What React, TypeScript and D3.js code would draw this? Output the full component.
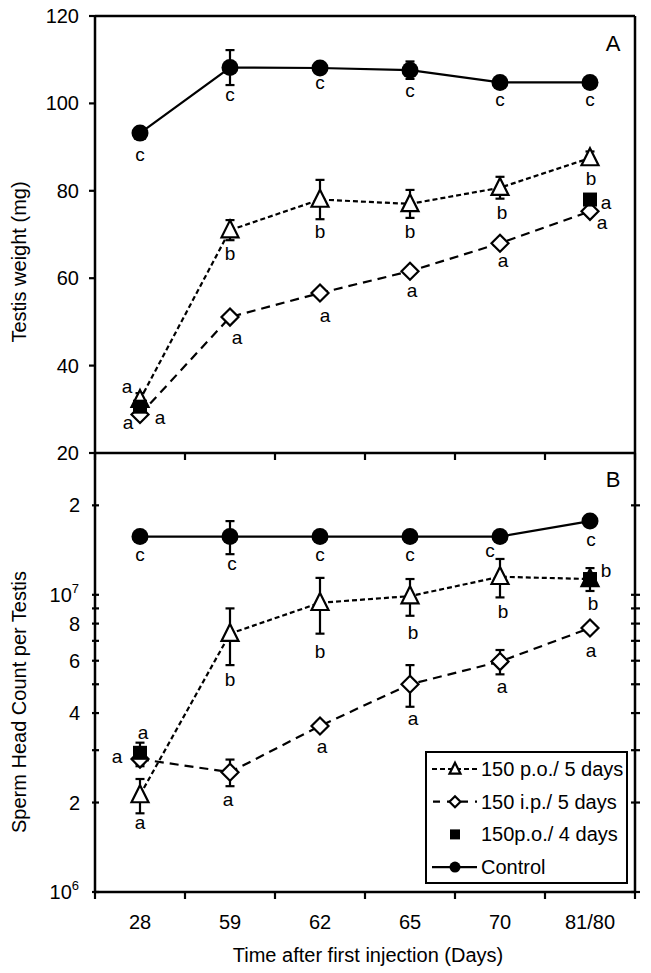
import React from "react";
import * as d3 from "d3";

const categories = ["28", "59", "62", "65", "70", "81/80"];

// Panel A: testis weight (mg)
const weightTicks = [20, 40, 60, 80, 100, 120];
const weightControl = [93.2, 108.2, 108.1, 107.6, 104.8, 104.8];
const weightControlErr = [1.2, 4.0, 1.0, 2.0, 0.8, 0.8];
const weightPo5 = [32.2, 71.0, 78.0, 77.0, 80.7, 87.5];
const weightPo5Err = [1.5, 2.3, 4.5, 3.2, 2.5, 1.5];
const weightIp5 = [28.8, 51.1, 56.6, 61.6, 68.0, 75.3];
const weightIp5Err = [0.8, 0.8, 0.8, 0.8, 0.8, 0.8];
const weightPo4 = [30.6, null, null, null, null, 78.0];
const weightPo4Err = [1.0, null, null, null, null, 1.0];

// Panel B: sperm head count per testis
const countControl = [1.57e7, 1.57e7, 1.57e7, 1.57e7, 1.57e7, 1.77e7];
const countControlErr = [0.05e7, 0.2e7, 0.03e7, 0.03e7, 0.03e7, 0.05e7];
const countPo5 = [2.12e6, 7.4e6, 9.4e6, 9.9e6, 1.15e7, 1.13e7];
const countPo5Err = [0.28e6, 1.6e6, 2.0e6, 1.4e6, 1.7e6, 0.5e6];
const countIp5 = [2.8e6, 2.53e6, 3.62e6, 5.0e6, 5.96e6, 7.73e6];
const countIp5Err = [0.15e6, 0.26e6, 0.1e6, 0.8e6, 0.56e6, 0.1e6];
const countPo4 = [2.94e6, null, null, null, null, 1.13e7];
const countPo4Err = [0.24e6, null, null, null, null, 1.0e6];

// significance letters
const weightControlLetters = ["c", "c", "c", "c", "c", "c"];
const weightPo5Letters = ["a", "b", "b", "b", "b", "b"];
const weightIp5Letters = ["a", "a", "a", "a", "a", "a"];
const weightPo4Letters = ["a", null, null, null, null, "a"];
const countControlLetters = ["c", "c", "c", "c", "c", "c"];
const countPo5Letters = ["a", "b", "b", "b", "b", "b"];
const countIp5Letters = ["a", "a", "a", "a", "a", "a"];
const countPo4Letters = ["a", null, null, null, null, "b"];

const countMajorTicks = [1e6, 1e7];
const countMinorTicks = [2e6, 3e6, 4e6, 5e6, 6e6, 7e6, 8e6, 9e6, 2e7];
const countLabeled = [
  { v: 2e6, t: "2" },
  { v: 4e6, t: "4" },
  { v: 6e6, t: "6" },
  { v: 8e6, t: "8" },
  { v: 2e7, t: "2" },
];

const legendLabels = ["150 p.o./ 5 days", "150 i.p./ 5 days", "150p.o./ 4 days", "Control"];

// label offsets (layout)
const offWCtrl = [[0, 21], [0, 27], [0, 14], [0, 20], [0, 17], [0, 17]];
const offWPo5 = [[-13, -13], [0, 23], [0, 32], [0, 28], [2, 25], [1, 20]];
const offWIp5 = [[-12, 8], [7, 20], [5, 22], [2, 19], [3, 17], [12, 11]];
const offWPo4 = [[20, 11], null, null, null, null, [16, 3]];
const offCCtrl = [[0, 18], [2, 27], [0, 18], [0, 18], [-10, 14], [1, 18]];
const offCPo5 = [[0, 27], [0, 46], [0, 49], [3, 36], [3, 35], [16, -9]];
const offCIp5 = [[3, -27], [-2, 27], [2, 21], [3, 34], [2, 25], [1, 22]];
const offCPo4 = [[-23, 4], null, null, null, null, [3, 24]];

const FONT = "'Liberation Sans', Arial, sans-serif";

const L = 95, R = 635, T = 16, MID = 453, B = 892;

const x = d3.scalePoint<string>().domain(categories).range([L, R]).padding(0.5);
const yW = d3.scaleLinear().domain([20, 120]).range([MID, T]);
const yC = d3.scaleLog().domain([1e6, 3e7]).range([B, MID]);

function tri(cx: number, cy: number, s = 8.5) {
  return `M${cx},${cy - s * 1.15}L${cx + s},${cy + s * 0.85}L${cx - s},${cy + s * 0.85}Z`;
}
function dia(cx: number, cy: number, s = 8.5) {
  return `M${cx},${cy - s}L${cx + s},${cy}L${cx},${cy + s}L${cx - s},${cy}Z`;
}

type Ser = {
  vals: (number | null)[];
  errs: (number | null)[];
  letters: (string | null)[];
  offs: (number[] | null)[];
  marker: "circle" | "tri" | "dia" | "sq";
  dash: string | null;
};

function Panel({ series, y }: { series: Ser[]; y: (v: number) => number }) {
  const els: React.ReactNode[] = [];
  series.forEach((s, si) => {
    if (s.dash !== null) {
      const pts = categories
        .map((c, i) => (s.vals[i] == null ? null : [x(c)!, y(s.vals[i] as number)]))
        .filter(Boolean) as [number, number][];
      const line = d3.line();
      els.push(
        <path key={`l${si}`} d={line(pts)!} fill="none" stroke="#000" strokeWidth={2.2}
          strokeDasharray={s.dash || undefined} />
      );
    }
  });
  series.forEach((s, si) => {
    categories.forEach((c, i) => {
      const v = s.vals[i];
      const e = s.errs[i];
      if (v == null || e == null) return;
      const cx = x(c)!;
      const y1 = y(v + e), y2 = y(Math.max(v - e, 1e-9));
      els.push(
        <g key={`e${si}-${i}`} stroke="#000" strokeWidth={2.2}>
          <line x1={cx} x2={cx} y1={y1} y2={y2} />
          <line x1={cx - 4.5} x2={cx + 4.5} y1={y1} y2={y1} />
          <line x1={cx - 4.5} x2={cx + 4.5} y1={y2} y2={y2} />
        </g>
      );
    });
  });
  series.forEach((s, si) => {
    categories.forEach((c, i) => {
      const v = s.vals[i];
      if (v == null) return;
      const cx = x(c)!, cy = y(v);
      let m: React.ReactNode;
      if (s.marker === "circle") m = <circle cx={cx} cy={cy} r={8.5} fill="#000" />;
      else if (s.marker === "tri") m = <path d={tri(cx, cy)} fill="#fff" stroke="#000" strokeWidth={2.2} />;
      else if (s.marker === "dia") m = <path d={dia(cx, cy)} fill="#fff" stroke="#000" strokeWidth={2.2} />;
      else m = <rect x={cx - 7} y={cy - 7} width={14} height={14} fill="#000" />;
      els.push(<g key={`m${si}-${i}`}>{m}</g>);
    });
  });
  series.forEach((s, si) => {
    categories.forEach((c, i) => {
      const v = s.vals[i];
      const lt = s.letters[i];
      const o = s.offs[i];
      if (v == null || !lt || !o) return;
      els.push(
        <text key={`t${si}-${i}`} x={x(c)! + o[0]} y={y(v) + o[1]} fontSize={19}
          textAnchor="middle" dominantBaseline="central" fontFamily={FONT}>{lt}</text>
      );
    });
  });
  return <g>{els}</g>;
}

export default function App() {
  const topSeries: Ser[] = [
    { vals: weightControl, errs: weightControlErr, letters: weightControlLetters, offs: offWCtrl, marker: "circle", dash: "" },
    { vals: weightPo5, errs: weightPo5Err, letters: weightPo5Letters, offs: offWPo5, marker: "tri", dash: "5,3" },
    { vals: weightIp5, errs: weightIp5Err, letters: weightIp5Letters, offs: offWIp5, marker: "dia", dash: "9,6" },
    { vals: weightPo4, errs: weightPo4Err, letters: weightPo4Letters, offs: offWPo4, marker: "sq", dash: null },
  ];
  const botSeries: Ser[] = [
    { vals: countControl, errs: countControlErr, letters: countControlLetters, offs: offCCtrl, marker: "circle", dash: "" },
    { vals: countPo5, errs: countPo5Err, letters: countPo5Letters, offs: offCPo5, marker: "tri", dash: "5,3" },
    { vals: countIp5, errs: countIp5Err, letters: countIp5Letters, offs: offCIp5, marker: "dia", dash: "9,6" },
    { vals: countPo4, errs: countPo4Err, letters: countPo4Letters, offs: offCPo4, marker: "sq", dash: null },
  ];
  const bounds = d3.range(categories.length + 1).map((i) => L + (i * (R - L)) / categories.length);
  const legX = 426, legY = 752, legW = 201, legH = 131;
  const rowY = (i: number) => 769 + i * 32.7;
  return (
    <svg width={651} height={973} style={{ position: "absolute", left: 0, top: 0, background: "#fff" }}
      fontFamily={FONT}>
      <rect x={0} y={0} width={651} height={973} fill="#fff" />
      <Panel series={topSeries} y={(v) => yW(v)} />
      <Panel series={botSeries} y={(v) => yC(v)} />
      {/* frame */}
      <g stroke="#000" strokeWidth={2.5} fill="none">
        <line x1={L} x2={R} y1={T} y2={T} />
        <line x1={L} x2={L} y1={T} y2={B} />
        <line x1={R} x2={R} y1={T} y2={B} />
        <line x1={L} x2={R} y1={MID} y2={MID} />
        <line x1={L} x2={R} y1={B} y2={B} />
      </g>
      {/* x ticks */}
      <g stroke="#000" strokeWidth={2.2}>
        {bounds.map((bx, i) => (
          <g key={i}>
            <line x1={bx} x2={bx} y1={MID} y2={MID + 7} />
            <line x1={bx} x2={bx} y1={B} y2={B + 7} />
          </g>
        ))}
      </g>
      {categories.map((c) => (
        <text key={c} x={x(c)} y={922} fontSize={20} textAnchor="middle" dominantBaseline="central">{c}</text>
      ))}
      <text x={368} y={955} fontSize={20} textAnchor="middle" dominantBaseline="central">
        Time after first injection (Days)
      </text>
      {/* top y ticks */}
      {weightTicks.map((t) => (
        <g key={t}>
          <line x1={L - 6} x2={L} y1={yW(t)} y2={yW(t)} stroke="#000" strokeWidth={2.2} />
          <text x={79} y={yW(t)} fontSize={20} textAnchor="end" dominantBaseline="central">{t}</text>
        </g>
      ))}
      {/* bottom y ticks both sides */}
      {[...countMajorTicks, ...countMinorTicks].map((t) => (
        <g key={t} stroke="#000" strokeWidth={2.2}>
          <line x1={L - 3} x2={L + 4} y1={yC(t)} y2={yC(t)} />
          <line x1={R - 4} x2={R + 5} y1={yC(t)} y2={yC(t)} />
        </g>
      ))}
      {countLabeled.map((d, i) => (
        <text key={i} x={80} y={yC(d.v)} fontSize={20} textAnchor="end" dominantBaseline="central">{d.t}</text>
      ))}
      {countMajorTicks.map((t) => (
        <text key={t} x={79} y={yC(t) + 7} fontSize={20} textAnchor="end">
          10<tspan fontSize={13} dy={-9}>{Math.round(Math.log10(t))}</tspan>
        </text>
      ))}
      {/* axis titles */}
      <text transform={`translate(19,262) rotate(-90)`} fontSize={20} textAnchor="middle" dominantBaseline="central">
        Testis weight (mg)
      </text>
      <text transform={`translate(19,702) rotate(-90)`} fontSize={20} textAnchor="middle" dominantBaseline="central">
        Sperm Head Count per Testis
      </text>
      <text x={613} y={43} fontSize={22} textAnchor="middle" dominantBaseline="central">A</text>
      <text x={613} y={479} fontSize={22} textAnchor="middle" dominantBaseline="central">B</text>
      {/* legend */}
      <rect x={legX} y={legY} width={legW} height={legH} fill="#fff" stroke="#000" strokeWidth={2} />
      <g stroke="#000" strokeWidth={2.2}>
        <line x1={432} x2={477} y1={rowY(0)} y2={rowY(0)} strokeDasharray="5,3" />
        <line x1={432} x2={477} y1={rowY(1)} y2={rowY(1)} strokeDasharray="7,7" strokeDashoffset={-1} />
        <line x1={432} x2={477} y1={rowY(3)} y2={rowY(3)} />
      </g>
      <path d={tri(455, rowY(0), 5.5)} fill="#fff" stroke="#000" strokeWidth={2.2} />
      <path d={dia(455, rowY(1), 5.5)} fill="#fff" stroke="#000" strokeWidth={2.2} />
      <rect x={450} y={rowY(2) - 5} width={10} height={10} fill="#000" />
      <circle cx={455} cy={rowY(3)} r={5.5} fill="#000" />
      {legendLabels.map((l, i) => (
        <text key={l} x={481} y={rowY(i)} fontSize={20} dominantBaseline="central">{l}</text>
      ))}
    </svg>
  );
}
